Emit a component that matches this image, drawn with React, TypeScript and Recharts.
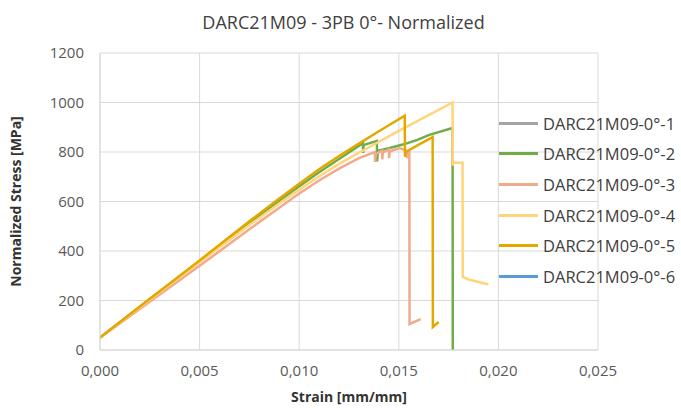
import { LineChart, Line, XAxis, YAxis, CartesianGrid, Legend, Label } from "recharts"

document.body.style.margin = "0"

const FONT = "'Open Sans', sans-serif"

// strain [mm/mm] / normalized stress [MPa]
const strain1: number[] = []
const stress1: number[] = []

const strain2 = [0, 0.0025, 0.005, 0.0075, 0.009, 0.01, 0.011, 0.012, 0.0132, 0.01321, 0.01323, 0.0139, 0.01391, 0.01395, 0.0145, 0.0152, 0.0159, 0.01653, 0.0177, 0.01771]
const stress2 = [50, 205, 358, 512, 603, 662, 718, 772, 836, 796, 828, 845, 762, 805, 815, 830, 848, 869, 897, 0]

const strain3 = [0, 0.0025, 0.005, 0.0075, 0.009, 0.01, 0.011, 0.012, 0.013, 0.0138, 0.01381, 0.01385, 0.01416, 0.01417, 0.0142, 0.0145, 0.01451, 0.01455, 0.01503, 0.0154, 0.01541, 0.01545, 0.01553, 0.01554, 0.0161]
const stress3 = [50, 195, 340, 488, 575, 632, 685, 733, 775, 800, 760, 792, 805, 770, 798, 810, 775, 802, 816, 805, 775, 800, 800, 105, 125]

const strain4 = [0, 0.0025, 0.005, 0.0075, 0.009, 0.01, 0.011, 0.012, 0.013, 0.015, 0.0177, 0.01771, 0.01775, 0.0182, 0.01821, 0.0185, 0.0195]
const stress4 = [50, 203, 355, 505, 592, 648, 702, 752, 797, 885, 1000, 745, 757, 757, 295, 285, 265]

const strain5 = [0, 0.0025, 0.005, 0.0075, 0.009, 0.01, 0.011, 0.012, 0.013, 0.014, 0.0153, 0.01531, 0.01535, 0.016, 0.0167, 0.01671, 0.017]
const stress5 = [50, 207, 362, 520, 612, 672, 730, 784, 834, 884, 947, 781, 800, 830, 860, 93, 113]

const strain6: number[] = []
const stress6: number[] = []

const xTicks = [0, 0.005, 0.01, 0.015, 0.02, 0.025]
const yTicks = [0, 200, 400, 600, 800, 1000, 1200]

const names = ["DARC21M09-0°-1", "DARC21M09-0°-2", "DARC21M09-0°-3", "DARC21M09-0°-4", "DARC21M09-0°-5", "DARC21M09-0°-6"]
const colors = ["#A5A5A5", "#70AD47", "#F2AA8C", "#FFD47A", "#E3A800", "#5B9BD5"]

const strains = [strain1, strain2, strain3, strain4, strain5, strain6]
const stresses = [stress1, stress2, stress3, stress4, stress5, stress6]

const series = names.map((name, i) => ({
  name,
  color: colors[i],
  points: strains[i].map((x, j) => ({ x, y: stresses[i][j] })),
}))

function fmtStrain(v: number) {
  return v.toFixed(3).replace(".", ",")
}

function LegendBox() {
  return (
    <div style={{ fontFamily: FONT, fontSize: 16.5, color: "#404040" }}>
      {series.map((s) => (
        <div key={s.name} style={{ display: "flex", alignItems: "center", height: 30.6 }}>
          <div style={{ width: 39, height: 3, background: s.color, marginRight: 5 }} />
          <span style={{ whiteSpace: "nowrap" }}>{s.name}</span>
        </div>
      ))}
    </div>
  )
}

export default function App() {
  return (
    <div style={{ position: "relative", width: 681, height: 408, background: "#fff" }}>
      <div
        style={{
          position: "absolute",
          top: 10,
          left: 3,
          width: 681,
          textAlign: "center",
          fontFamily: FONT,
          fontSize: 18,
          lineHeight: "24px",
          color: "#404040",
        }}
      >
        DARC21M09 - 3PB 0°- Normalized
      </div>
      <LineChart width={681} height={408} margin={{ top: 53, right: 83, bottom: 0, left: 0 }}>
        <CartesianGrid stroke="#D9D9D9" strokeWidth={1} />
        <XAxis
          dataKey="x"
          type="number"
          domain={[0, 0.025]}
          ticks={xTicks}
          tickFormatter={fmtStrain}
          height={58}
          tickLine={false}
          tickSize={0}
          tickMargin={15}
          stroke="#D9D9D9"
          tick={{ fill: "#595959", fontSize: 15, fontFamily: FONT }}
          allowDataOverflow
        >
          <Label
            value="Strain [mm/mm]"
            position="insideBottom"
            offset={6}
            style={{ fontFamily: FONT, fontSize: 14, fontWeight: 700, fill: "#333" }}
          />
        </XAxis>
        <YAxis
          type="number"
          domain={[0, 1200]}
          ticks={yTicks}
          width={100}
          tickLine={false}
          tickSize={0}
          tickMargin={16}
          stroke="#D9D9D9"
          tick={{ fill: "#595959", fontSize: 15, fontFamily: FONT }}
          allowDataOverflow
        >
          <Label
            value="Normalized Stress [MPa]"
            angle={-90}
            position="insideLeft"
            offset={16}
            style={{ textAnchor: "middle", fontFamily: FONT, fontSize: 14, fontWeight: 700, fill: "#333" }}
          />
        </YAxis>
        <Legend
          layout="vertical"
          align="center"
          verticalAlign="middle"
          content={() => <LegendBox />}
          wrapperStyle={{ left: 499, top: 108, width: 182 }}
        />
        {series.map((s) => (
          <Line
            key={s.name}
            name={s.name}
            data={s.points}
            dataKey="y"
            type="linear"
            stroke={s.color}
            strokeWidth={2.5}
            dot={false}
            activeDot={false}
            isAnimationActive={false}
          />
        ))}
      </LineChart>
    </div>
  )
}
